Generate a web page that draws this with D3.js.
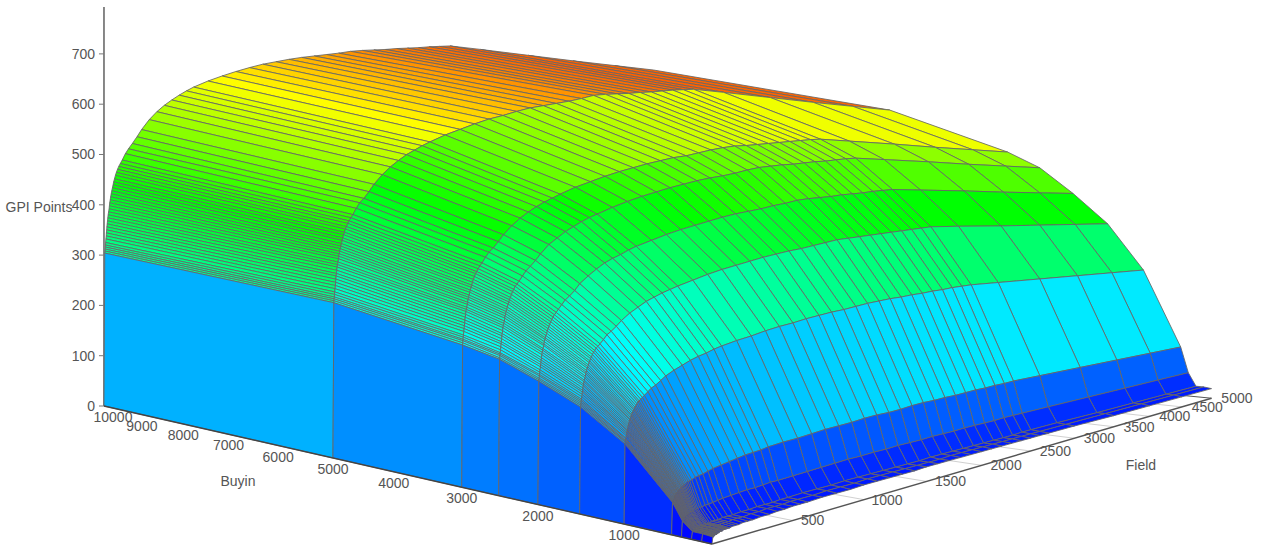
<!DOCTYPE html>
<html><head><meta charset="utf-8">
<script src="https://cdn.jsdelivr.net/npm/d3@7"></script>
<style>body{margin:0;background:#fff}text{font-family:"Liberation Sans",Arial,sans-serif;font-size:14px;fill:#555}</style>
</head><body><svg id="c" width="1262" height="553"></svg>
<script>
const buyins=[100,200,300,400,500,1000,1500,2000,2500,3000,5000,10000];
const fields=[10,15,16,17,18,19,20,
 22,24,25,27,28,30,32,34,36,39,42,44,46,49,52,55,59,63,67,71,76,82,88,95,
 103,113,125,145,165,190,220,250,300,350,400,450,500,550,600,
 700,800,900,
 1000,1100,1200,1300,1400,1500,1600,1700,1800,1900,2000,2100,2200,2300,2400,2500,2600,2700,
 3000,3500,4000,4500,5000];
// GPI points, one list per buyin, same order as fields
const z100=[0,8,8,8,8,9,9,
 9,9,9,9,10,10,10,10,10,10,11,11,11,11,11,12,12,12,12,12,13,13,13,13,
 13,13,14,14,14,15,15,15,16,16,17,17,18,18,18,
 19,19,19,
 20,20,20,20,20,21,21,21,21,21,21,21,21,21,21,21,21,21,
 21,20,20,20,20];
const z200=[0,9,9,9,9,9,9,
 10,10,10,10,10,11,11,11,11,11,11,12,12,12,12,12,13,13,13,13,13,14,14,14,
 14,14,15,15,15,16,16,16,17,17,18,18,18,19,19,
 19,20,20,
 20,21,21,21,21,21,21,21,22,22,22,22,22,22,22,22,22,22,
 22,22,22,22,22];
const z300=[0,9,9,9,9,9,9,
 10,10,10,10,10,11,11,11,11,11,11,12,12,12,12,12,13,13,13,13,13,14,14,14,
 14,14,15,15,15,16,16,16,17,17,18,18,18,19,19,
 20,20,20,
 21,21,21,21,21,21,21,22,22,22,22,22,22,22,22,22,23,23,
 23,22,22,22,22];
const z400=[0,19,19,19,20,20,20,
 21,21,21,22,22,22,23,23,24,24,24,25,25,25,26,26,27,27,27,28,28,28,29,29,
 29,30,30,31,31,32,33,34,35,36,37,37,38,39,39,
 40,41,42,
 43,44,44,45,45,46,46,46,47,47,47,48,48,48,48,49,49,49,
 49,49,49,49,49];
const z500=[0,39,39,40,40,41,42,
 42,43,44,45,46,46,47,48,49,49,50,51,51,52,52,53,54,55,55,56,57,57,58,59,
 60,60,61,63,64,65,67,69,71,73,75,77,78,79,81,
 83,84,86,
 88,89,90,92,93,93,94,96,97,97,98,98,99,100,100,101,101,102,
 102,102,102,102,102];
const z1000=[0,100,102,103,104,106,107,
 110,112,114,116,117,119,121,123,125,127,129,130,132,134,135,137,139,141,142,144,146,148,150,151,
 153,155,157,161,165,168,173,178,184,189,194,198,201,205,208,
 213,217,222,
 226,229,233,236,239,241,244,247,249,251,252,254,255,257,258,260,261,262,
 262,262,262,262,262];
const z1500=[0,138,140,142,144,146,148,
 151,154,157,159,162,165,167,170,172,175,177,180,182,184,187,189,191,194,196,199,201,204,207,209,
 212,214,217,222,228,232,238,245,254,261,268,273,278,282,286,
 293,300,306,
 311,316,321,325,329,332,336,340,344,346,348,350,352,354,356,358,360,362,
 362,361,361,361,361];
const z2000=[0,164,166,168,171,173,176,
 179,183,186,189,192,195,199,202,205,207,211,213,216,219,221,224,227,230,233,236,239,242,245,248,
 251,254,258,264,270,275,282,291,301,310,318,324,329,335,340,
 348,356,363,
 369,375,381,386,390,394,399,403,408,411,413,415,418,420,422,425,427,429,
 429,429,428,428,428];
const z2500=[0,187,189,192,194,196,200,
 204,208,211,215,219,222,226,230,233,236,239,243,246,249,252,255,258,262,265,268,271,275,279,282,
 286,289,293,300,307,313,321,330,343,352,361,368,375,381,386,
 396,405,413,
 420,427,433,439,444,448,453,459,464,467,470,472,475,478,480,483,486,488,
 488,488,487,487,487];
const z3000=[0,201,204,207,209,212,215,
 220,224,228,232,236,240,244,248,251,254,258,261,265,268,271,275,278,282,285,289,293,297,301,304,
 308,312,316,324,331,337,346,356,369,380,389,397,404,410,416,
 427,436,445,
 453,460,467,473,479,483,489,495,500,504,506,509,512,515,518,521,524,526,
 526,526,525,525,525];
const z5000=[0,245,248,251,254,258,262,
 267,272,277,282,287,291,296,301,305,309,314,318,322,326,330,334,338,343,347,352,356,361,365,370,
 374,379,384,394,403,410,421,433,449,462,473,483,491,499,506,
 519,530,541,
 551,559,568,576,582,588,594,601,609,613,616,619,623,626,630,634,637,640,
 640,639,638,638,638];
const z10000=[0,304,308,312,316,320,325,
 332,338,344,350,356,362,368,374,380,386,392,398,404,410,416,422,428,434,440,446,452,459,465,471,
 477,483,490,503,513,524,538,553,574,591,605,617,628,638,647,
 662,675,687,
 698,708,716,724,731,737,743,749,756,761,765,769,774,778,782,787,791,795,
 795,794,793,793,793];
const zRows=[z100,z200,z300,z400,z500,z1000,z1500,z2000,z2500,z3000,z5000,z10000];
const buyinTicks=[1000,2000,3000,4000,5000,6000,7000,8000,9000,10000];
const fieldTicks=[500,1000,1500,2000,2500,3000,3500,4000,4500,5000];
const zTicks=[0,100,200,300,400,500,600,700];
const zMax=793;

const bS=d3.scaleLinear([0,10000],[0,10]),fS=d3.scaleLinear([10,5010],[0,5]);
// camera: fitted against the axis ends and tick labels
function proj(b,f,z){
  const B=bS(b),F=fS(f),w=1+.07007*B+.155*F;
  return [(722.44-54.56*B+288.6*F)/w,(546.4+14.41*B+32.3*F-.8555*z)/w];
}
const hue=d3.scaleLinear([0,zMax],[240,0]).clamp(true);
const svg=d3.select("#c");
const L=d3.line();

// floor grid
svg.selectAll(".g").data(fieldTicks).enter().append("path")
  .attr("d",f=>L([proj(100,f,0),proj(10000,f,0)]))
  .attr("stroke",f=>f==5000?"#555":"#d0d0d0").attr("fill","none");

// axes
const axis=(p,c)=>svg.append("path").attr("d",L(p)).attr("stroke",c||"#555").attr("stroke-width",1.4).attr("fill","none");
axis([proj(100,10,0),proj(100,5000,0)]);
axis([proj(10000,10,0),proj(10000,10,zMax)]);

// surface, back to front
const cells=[];
for(let i=buyins.length-2;i>=0;i--)for(let j=fields.length-2;j>=0;j--)cells.push([i,j]);
const Z=(i,j)=>zRows[i][j];
svg.append("g").selectAll("path").data(cells).enter().append("path")
  .attr("d",([i,j])=>L([[i,j],[i+1,j],[i+1,j+1],[i,j+1]].map(([a,c])=>proj(buyins[a],fields[c],Z(a,c))))+"Z")
  .attr("fill",([i,j])=>d3.hsl(hue((Z(i,j)+Z(i+1,j)+Z(i,j+1)+Z(i+1,j+1))/4),1,.5).formatHex())
  .attr("stroke","#666").attr("stroke-width",.85);
axis([proj(10000,10,0),proj(100,10,0)],"#444");

// tick labels
svg.selectAll(".zt").data(zTicks).enter().append("text").attr("x",95).attr("y",z=>proj(10000,10,z)[1]+5).attr("text-anchor","end").text(d=>d);
svg.selectAll(".zm").data(zTicks).enter().append("path").attr("d",z=>{const p=proj(10000,10,z);return L([[p[0]-5,p[1]],p])}).attr("stroke","#777");
svg.selectAll(".bt").data(buyinTicks).enter().append("text").attr("x",b=>proj(b,10,0)[0]+(b==10000?9:0)).attr("y",b=>proj(b,10,0)[1]+16).attr("text-anchor","middle").text(d=>d);
svg.selectAll(".ft").data(fieldTicks).enter().append("text").attr("x",f=>proj(100,f,0)[0]+26-3000/f).attr("y",f=>proj(100,f,0)[1]+5).attr("text-anchor","middle").text(d=>d);
svg.append("text").attr("x",39).attr("y",212).attr("text-anchor","middle").text("GPI Points");
svg.append("text").attr("x",238).attr("y",486).attr("text-anchor","middle").text("Buyin");
svg.append("text").attr("x",1141).attr("y",470).attr("text-anchor","middle").text("Field");
</script></body></html>
